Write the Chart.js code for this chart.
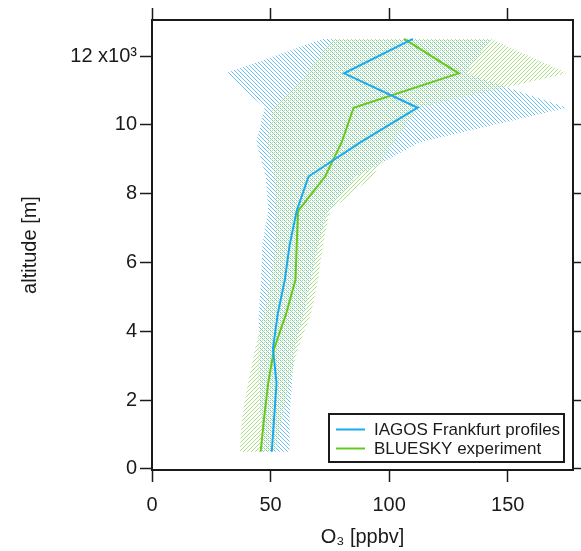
<!DOCTYPE html>
<html>
<head>
<meta charset="utf-8">
<title>O3 profiles</title>
<script src="https://cdn.jsdelivr.net/npm/chart.js@4.4.1/dist/chart.umd.min.js"></script>
<style>
  html, body { margin: 0; padding: 0; background: #fff; }
  #wrap { position: relative; width: 581px; height: 551px; }
</style>
</head>
<body>
<div id="wrap"><canvas id="o3Chart" width="581" height="551"></canvas></div>
<script>
// altitude levels [m] and ozone [ppbv]
const altitude = [500, 1500, 2500, 3500, 4500, 5500, 6500, 7500, 8500, 9500, 10500, 11500, 12500];

const iagosMean = [50.5, 51.5, 52.5, 51, 53, 56, 58, 61, 66, 88, 112, 81, 110];
const iagosLow = [46, 46, 45, 45, 45, 46, 46.5, 49, 48, 44, 47.5, 31, 72];
const iagosHigh = [58, 58, 59, 60, 64, 67, 70, 74, 86, 113, 175, 132, 143];

const blueskyMean = [45.8, 47.3, 49, 51.5, 56.5, 60.5, 61, 61.6, 73, 80, 85, 129.3, 106.3];
const blueskyLow = [37, 38, 40.5, 43.5, 47, 50, 52, 52.5, 51.5, 48.5, 51, 65, 76];
const blueskyHigh = [52, 55, 58, 61.5, 67, 70, 72, 75, 93, 102, 112, 175, 143];

const o3Ticks = [0, 50, 100, 150];
const altitudeTicks = [0, 2000, 4000, 6000, 8000, 10000, 12000];

const FONT = '"Liberation Sans", Arial, sans-serif';
const INK = '#1a1a1a';
const BLUE = '#1aa9ee';
const GREEN = '#66c81e';

Chart.defaults.font.family = FONT;
Chart.defaults.color = INK;

const ctx = document.getElementById('o3Chart').getContext('2d');

// hatch fills, one pixel per row: "\" for IAGOS, "/" for BLUESKY
// (the "/" tile is shifted by two pixels, otherwise it came out grey)
function hatch(rgb, slash) {
  const size = 4;
  const c = document.createElement('canvas');
  c.width = c.height = size;
  const g = c.getContext('2d');
  g.fillStyle = 'rgb(' + rgb + ')';
  for (let i = 0; i < size; i++) {
    const x = slash ? (size + 2 - i) % size : i;
    g.fillRect(x, i, 1, 1);
  }
  return ctx.createPattern(c, 'repeat');
}

const profile = (xs) => xs.map((v, i) => ({ x: v, y: altitude[i] }));
// closed outline: low side going up, high side coming down
const band = (low, high) => profile(low).concat(profile(high).reverse());

// legend in a box at the lower right of the plot
const boxLegend = {
  id: 'boxLegend',
  afterDraw(chart) {
    const c = chart.ctx;
    const area = chart.chartArea;
    const items = chart.data.datasets.filter((d) => d.label);
    const w = 235, h = 48;
    const left = area.right - 9 - w;
    const top = area.bottom - 8 - h;
    c.save();
    c.fillStyle = '#fff';
    c.fillRect(left, top, w, h);
    c.strokeStyle = INK;
    c.lineWidth = 2;
    c.strokeRect(left, top, w, h);
    c.font = '17px ' + FONT;
    c.textBaseline = 'middle';
    items.forEach((d, i) => {
      const y = top + 15.5 + i * 19;
      c.strokeStyle = d.borderColor;
      c.lineWidth = 2;
      c.beginPath();
      c.moveTo(left + 7, y);
      c.lineTo(left + 36, y);
      c.stroke();
      c.fillStyle = INK;
      c.fillText(d.label, left + 45, y + 1);
    });
    c.restore();
  },
};

const axisGrid = { drawOnChartArea: false, tickLength: 12, tickWidth: 1.5, tickColor: INK };
const axisBorder = { color: INK, width: 2 };

new Chart(ctx, {
  type: 'line',
  data: {
    datasets: [
      {
        label: 'IAGOS Frankfurt profiles',
        data: profile(iagosMean),
        borderColor: BLUE,
        borderWidth: 2,
        pointRadius: 0,
        fill: false,
      },
      {
        label: 'BLUESKY experiment',
        data: profile(blueskyMean),
        borderColor: GREEN,
        borderWidth: 2,
        pointRadius: 0,
        fill: false,
      },
      {
        label: '',
        data: band(blueskyLow, blueskyHigh),
        borderWidth: 0,
        borderColor: 'rgba(0,0,0,0)',
        backgroundColor: hatch('172,224,134', true),
        pointRadius: 0,
        fill: 'shape',
      },
      {
        label: '',
        data: band(iagosLow, iagosHigh),
        borderWidth: 0,
        borderColor: 'rgba(0,0,0,0)',
        backgroundColor: hatch('110,192,242', false),
        pointRadius: 0,
        fill: 'shape',
      },
    ],
  },
  options: {
    responsive: false,
    animation: false,
    devicePixelRatio: 1,
    layout: { padding: 0 },
    elements: { line: { tension: 0 } },
    plugins: {
      legend: { display: false },
      tooltip: { enabled: false },
      filler: { drawTime: 'beforeDatasetsDraw' },
    },
    scales: {
      x: {
        type: 'linear',
        position: 'bottom',
        min: 0,
        max: 177.5,
        afterBuildTicks: (s) => { s.ticks = o3Ticks.map((v) => ({ value: v })); },
        afterFit: (s) => { s.height = 81; },
        grid: axisGrid,
        border: axisBorder,
        ticks: { font: { size: 20 }, padding: 11, maxRotation: 0, color: INK },
        title: {
          display: true,
          text: 'O\u2083 [ppbv]',
          font: { size: 20 },
          color: INK,
          padding: { top: 0, bottom: 2 },
        },
      },
      x2: {
        type: 'linear',
        position: 'top',
        min: 0,
        max: 177.5,
        afterBuildTicks: (s) => { s.ticks = o3Ticks.map((v) => ({ value: v })); },
        afterFit: (s) => { s.height = 20; },
        grid: axisGrid,
        border: axisBorder,
        ticks: { display: false },
      },
      y: {
        type: 'linear',
        position: 'left',
        min: -30,
        max: 13050,
        afterBuildTicks: (s) => { s.ticks = altitudeTicks.map((v) => ({ value: v })); },
        afterFit: (s) => { s.width = 152; },
        grid: axisGrid,
        border: axisBorder,
        ticks: {
          font: { size: 20 },
          padding: 3,
          color: INK,
          callback: (v) => (v === 12000 ? '12 x10\u00b3' : v / 1000),
        },
        title: {
          display: true,
          text: 'altitude [m]',
          font: { size: 20 },
          color: INK,
          padding: { top: 18, bottom: 0 },
        },
      },
      y2: {
        type: 'linear',
        position: 'right',
        min: -30,
        max: 13050,
        afterBuildTicks: (s) => { s.ticks = altitudeTicks.map((v) => ({ value: v })); },
        afterFit: (s) => { s.width = 8; },
        grid: axisGrid,
        border: axisBorder,
        ticks: { display: false },
      },
    },
  },
  plugins: [boxLegend],
});
</script>
</body>
</html>
